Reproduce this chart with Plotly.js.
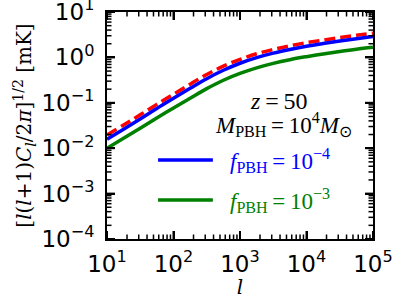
<!DOCTYPE html>
<html>
<head>
<meta charset="utf-8">
<script src="https://cdn.plot.ly/plotly-3.0.1.min.js"></script>
<style>html,body{margin:0;padding:0;background:#fff;}</style>
</head>
<body>
<div id="chart" style="width:399px;height:299px;"></div>
<script>
const ell = [10, 18, 32, 56, 100, 178, 316, 562, 1000, 1778, 3162, 5623, 10000, 17783, 31623, 56234, 100000];
const noPBH = [0.0195, 0.0327, 0.0550, 0.0923, 0.155, 0.257, 0.419, 0.641, 0.904, 1.202, 1.493, 1.799, 2.118, 2.404, 2.729, 3.062, 3.420];
const fPBH1e4 = [0.0158, 0.0266, 0.0447, 0.0750, 0.1259, 0.209, 0.340, 0.521, 0.743, 0.989, 1.242, 1.496, 1.762, 2.023, 2.296, 2.576, 2.877];
const fPBH1e3 = [0.0100, 0.0168, 0.0279, 0.0462, 0.0767, 0.1259, 0.205, 0.314, 0.443, 0.589, 0.740, 0.891, 1.038, 1.191, 1.352, 1.517, 1.675];
const xTickVals = [10, 100, 1000, 10000, 100000];
const xTickText = ['10<sup>1</sup>', '10<sup>2</sup>', '10<sup>3</sup>', '10<sup>4</sup>', '10<sup>5</sup>'];
const yTickVals = [1e-4, 1e-3, 1e-2, 1e-1, 1, 10];
const yTickText = ['10<sup>\u22124</sup>', '10<sup>\u22123</sup>', '10<sup>\u22122</sup>', '10<sup>\u22121</sup>', '10<sup>0</sup>', '10<sup>1</sup>'];

const xRange = [1, 5];
const yRange = [-4, 1];
const W = 399, H = 299, M = {l: 107, r: 26, t: 12, b: 60};
const plotW = W - M.l - M.r, plotH = H - M.t - M.b;

function minorVals(lo, hi) {
  const out = [];
  for (let e = lo; e < hi; e++) {
    for (let d = 2; d <= 9; d++) out.push(d * Math.pow(10, e));
  }
  return out;
}

// tick marks on all four sides (inside), drawn as paper-referenced shapes
function tickShapes() {
  const s = [];
  const add = (vals, len, width, isX) => {
    vals.forEach(v => {
      const r = isX ? xRange : yRange;
      const p = (Math.log10(v) - r[0]) / (r[1] - r[0]);
      const line = {color: '#000', width: width};
      if (isX) {
        const l = len / plotH;
        s.push({type: 'line', layer: 'above', xref: 'paper', yref: 'paper', x0: p, x1: p, y0: 0, y1: l, line: line});
        s.push({type: 'line', layer: 'above', xref: 'paper', yref: 'paper', x0: p, x1: p, y0: 1, y1: 1 - l, line: line});
      } else {
        const l = len / plotW;
        s.push({type: 'line', layer: 'above', xref: 'paper', yref: 'paper', y0: p, y1: p, x0: 0, x1: l, line: line});
        s.push({type: 'line', layer: 'above', xref: 'paper', yref: 'paper', y0: p, y1: p, x0: 1, x1: 1 - l, line: line});
      }
    });
  };
  add(xTickVals, 8, 2, true);
  add(minorVals(1, 5), 4.5, 1.5, true);
  add(yTickVals, 8, 2, false);
  add(minorVals(-4, 1), 4.5, 1.5, false);
  return s;
}

const traces = [
  {x: ell, y: noPBH, mode: 'lines', line: {color: '#ff0000', width: 3.5, dash: '11px,5px', shape: 'spline'}, showlegend: false},
  {x: ell, y: fPBH1e4, mode: 'lines', line: {color: '#0000ff', width: 3.5, shape: 'spline'}, showlegend: false},
  {x: ell, y: fPBH1e3, mode: 'lines', line: {color: '#008000', width: 3.5, shape: 'spline'}, showlegend: false}
];

const tickFont = {family: 'DejaVu Sans', size: 23, color: '#000'};
const axisCommon = {
  type: 'log', showgrid: false, zeroline: false, showline: true, linecolor: '#000', linewidth: 2,
  mirror: 'allticks', ticks: 'inside', ticklen: 8, tickwidth: 2, tickcolor: '#000',
  tickfont: tickFont, tickmode: 'array', ticklabeloverflow: 'allow'
};

const layout = {
  width: W, height: H,
  margin: M,
  paper_bgcolor: '#fff', plot_bgcolor: '#fff',
  showlegend: false,
  xaxis: Object.assign({}, axisCommon, {
    range: xRange, tickvals: xTickVals, ticktext: xTickText, ticklabelstandoff: 3,
    title: {text: '<i>l</i>', font: {family: 'DejaVu Serif', size: 20, color: '#000'}, standoff: 2}
  }),
  yaxis: Object.assign({}, axisCommon, {
    range: yRange, tickvals: yTickVals, ticktext: yTickText, ticklabelstandoff: 6,
    title: {text: '[<i>l</i>(<i>l</i>+1)<i>C<sub>l</sub></i>/2<i>\u03c0</i>]<sup>1/2</sup> [mK]', font: {family: 'DejaVu Serif', size: 20, color: '#000'}, standoff: 4}
  }),
  annotations: [
    {xref: 'paper', yref: 'paper', x: 0.645, y: 0.608, xanchor: 'center', yanchor: 'middle', showarrow: false,
     text: '<i>z</i>\u2009=\u200950', font: {family: 'Liberation Serif', size: 24, color: '#000'}},
    {xref: 'paper', yref: 'paper', x: 0.665, y: 0.505, xanchor: 'center', yanchor: 'middle', showarrow: false,
     text: '<i>M</i><sub>PBH</sub>\u2009=\u200910<sup>4</sup><i>M</i><sub>\u2299</sub>', font: {family: 'Liberation Serif', size: 23, color: '#000'}},
    {xref: 'paper', yref: 'paper', x: 0.455, y: 0.345, xanchor: 'left', yanchor: 'middle', showarrow: false,
     text: '<i>f</i><sub>PBH</sub>\u2009=\u200910<sup>\u22124</sup>', font: {family: 'Liberation Serif', size: 23, color: '#0000ff'}},
    {xref: 'paper', yref: 'paper', x: 0.455, y: 0.17, xanchor: 'left', yanchor: 'middle', showarrow: false,
     text: '<i>f</i><sub>PBH</sub>\u2009=\u200910<sup>\u22123</sup>', font: {family: 'Liberation Serif', size: 23, color: '#008000'}}
  ],
  shapes: [
    {type: 'line', xref: 'paper', yref: 'paper', x0: 0.192, x1: 0.398, y0: 0.348, y1: 0.348, line: {color: '#0000ff', width: 3.5}},
    {type: 'line', xref: 'paper', yref: 'paper', x0: 0.192, x1: 0.398, y0: 0.172, y1: 0.172, line: {color: '#008000', width: 3.5}}
  ].concat(tickShapes())
};

Plotly.newPlot('chart', traces, layout, {displayModeBar: false, staticPlot: true});
</script>
</body>
</html>
